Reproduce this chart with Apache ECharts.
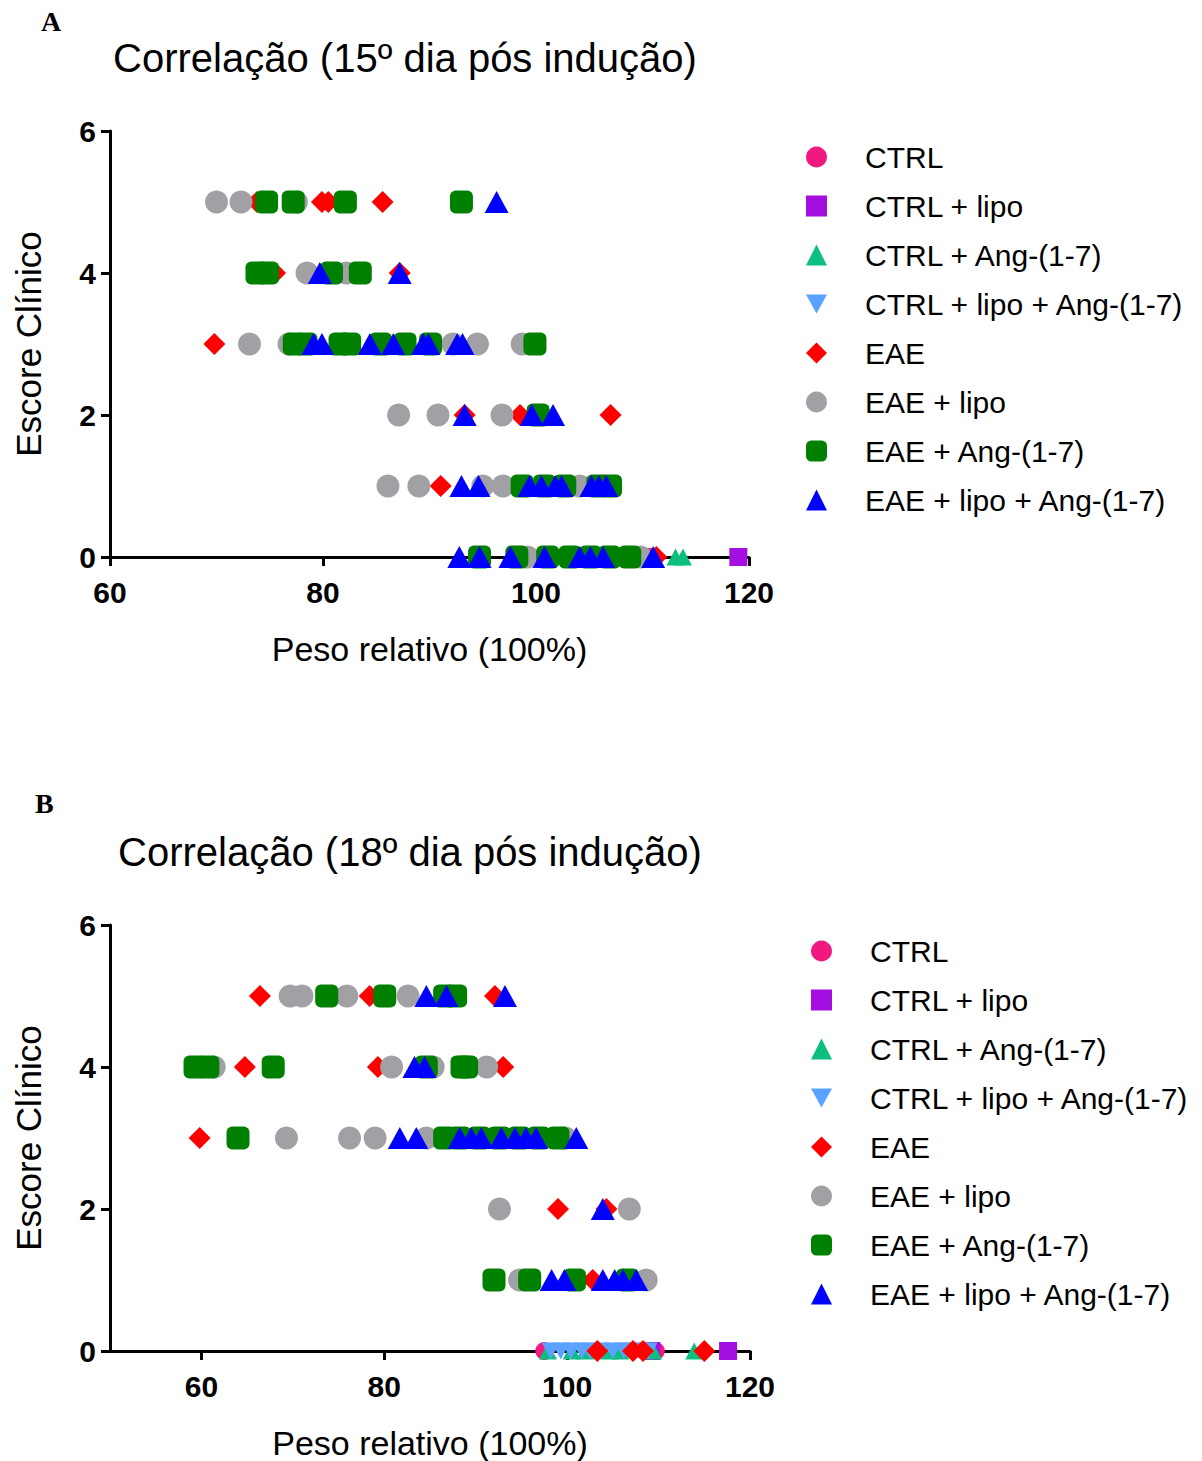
<!DOCTYPE html>
<html>
<head>
<meta charset="utf-8">
<script src="https://cdn.jsdelivr.net/npm/echarts@6/dist/echarts.min.js"></script>
<style>
  html, body { margin: 0; background: #fff; }
  #chart { width: 1202px; height: 1461px; }
</style>
</head>
<body>
<div id="chart"></div>
<script>
// groups, in legend order
const groupNames = ['CTRL', 'CTRL + lipo', 'CTRL + Ang-(1-7)', 'CTRL + lipo + Ang-(1-7)',
  'EAE', 'EAE + lipo', 'EAE + Ang-(1-7)', 'EAE + lipo + Ang-(1-7)'];
const xTicksA = [60, 80, 100, 120];
const xTicksB = [60, 80, 100, 120];
const yTicks = [0, 2, 4, 6];

// panel A - 15th day: [peso relativo, escore clinico]
const a_ctrl = [[110.7, 0]];
const a_ctrlLipo = [[119.0, 0]];
const a_ctrlAng = [[113.1, 0], [113.8, 0]];
const a_ctrlLipoAng = [[103.2, 0], [105.1, 0]];
const a_eae = [[73.8, 5], [79.9, 5], [80.5, 5], [85.6, 5], [75.5, 4], [81.9, 4], [87.2, 4], [69.8, 3],
  [93.3, 2], [98.5, 2], [107.0, 2], [91.05, 1], [103.0, 1], [105.3, 0], [111.3, 0]];
const a_eaeLipo = [[70.0, 5], [72.3, 5], [77.5, 5], [78.5, 4], [82.2, 4], [73.1, 3], [76.8, 3], [92.2, 3],
  [94.5, 3], [98.7, 3], [87.1, 2], [90.8, 2], [96.8, 2], [86.1, 1], [89.0, 1], [95.0, 1], [96.9, 1],
  [104.1, 1], [99.2, 0], [109.8, 0]];
const a_eaeAng = [[74.7, 5], [77.2, 5], [82.1, 5], [93.0, 5], [73.8, 4], [74.8, 4], [80.8, 4], [83.5, 4],
  [77.3, 3], [78.4, 3], [81.6, 3], [82.5, 3], [85.4, 3], [87.7, 3], [90.1, 3], [99.9, 3], [100.2, 2],
  [98.7, 1], [100.8, 1], [102.7, 1], [105.8, 1], [107.0, 1], [94.7, 0], [98.2, 0], [101.1, 0],
  [103.2, 0], [105.1, 0], [106.9, 0], [108.8, 0]];
const a_eaeLipoAng = [[96.3, 5], [79.7, 4], [87.2, 4], [79.1, 3], [79.9, 3], [84.4, 3], [86.6, 3], [89.4, 3],
  [89.9, 3], [92.6, 3], [93.1, 3], [93.3, 2], [99.6, 2], [101.6, 2], [93.0, 1], [94.6, 1], [99.4, 1],
  [100.5, 1], [101.8, 1], [102.4, 1], [105.2, 1], [105.9, 1], [106.6, 1], [92.8, 0], [94.7, 0],
  [97.6, 0], [100.8, 0], [104.1, 0], [105.1, 0], [106.3, 0], [111.0, 0]];

// panel B - 18th day
const b_ctrl = [[97.5, 0], [109.7, 0]];
const b_ctrlLipo = [[109.2, 0], [117.6, 0]];
const b_ctrlAng = [[97.9, 0], [100.5, 0], [102.0, 0], [104.6, 0], [105.8, 0], [109.4, 0], [113.9, 0]];
const b_ctrlLipoAng = [[98.2, 0], [99.3, 0], [100.4, 0], [101.6, 0], [102.5, 0], [103.8, 0], [105.0, 0],
  [106.2, 0], [107.0, 0], [108.1, 0], [108.9, 0]];
const b_eae = [[66.4, 5], [78.4, 5], [92.1, 5], [64.75, 4], [79.3, 4], [93.0, 4], [59.8, 3], [91.6, 3],
  [99.0, 2], [104.3, 2], [102.8, 1], [103.3, 0], [107.2, 0], [108.3, 0], [115.0, 0]];
const b_eaeLipo = [[69.7, 5], [71.0, 5], [75.9, 5], [82.6, 5], [61.4, 4], [80.8, 4], [85.35, 4], [91.2, 4],
  [69.3, 3], [76.2, 3], [79.0, 3], [84.6, 3], [99.8, 3], [92.6, 2], [106.8, 2], [94.8, 1], [108.65, 1]];
const b_eaeAng = [[73.7, 5], [80.05, 5], [86.6, 5], [87.8, 5], [59.3, 4], [60.7, 4], [67.85, 4], [84.6, 4],
  [88.5, 4], [89.0, 4], [64.0, 3], [86.6, 3], [88.25, 3], [90.4, 3], [92.6, 3], [94.75, 3], [96.9, 3],
  [99.0, 3], [92.0, 1], [95.9, 1], [100.8, 1], [106.6, 1]];
const b_eaeLipoAng = [[84.6, 5], [86.8, 5], [93.2, 5], [83.3, 4], [84.4, 4], [81.7, 3], [83.5, 3], [88.25, 3],
  [89.5, 3], [90.6, 3], [92.8, 3], [94.3, 3], [95.5, 3], [96.6, 3], [101.0, 3], [103.9, 2], [98.3, 1],
  [99.7, 1], [103.9, 1], [105.2, 1], [106.1, 1], [107.55, 1]];

const colors = ['#f0197f', '#a40fe0', '#0cbf7f', '#5aa2ff', '#ff0000', '#a1a0a5', '#008000', '#0000ff'];
const triDown = 'path://M0,0 L10,0 L5,9 Z';
const symbols = ['circle', 'rect', 'triangle', triDown, 'diamond', 'circle', 'roundRect', 'triangle'];
const sizes = [18, 18, [18, 17], [18, 17], 22, 23, 23, [24, 22]];

const FONT = '"Liberation Sans", Arial, sans-serif';

function makeSeries(lists, idx) {
  return groupNames.map((name, i) => ({
    name: name,
    type: 'scatter',
    xAxisIndex: idx,
    yAxisIndex: idx,
    data: lists[i],
    symbol: symbols[i],
    symbolSize: sizes[i],
    itemStyle: { color: colors[i], opacity: 1 },
    clip: false,
    emphasis: { disabled: true }
  }));
}

function xAxis(idx, min, interval, ticks) {
  return {
    gridIndex: idx, type: 'value', min: min, max: 120, interval: interval,
    name: 'Peso relativo (100%)', nameLocation: 'middle', nameGap: 75,
    nameTextStyle: { fontFamily: FONT, fontSize: 34, color: '#000' },
    axisLine: { onZero: false, lineStyle: { color: '#000', width: 3 } },
    axisTick: { customValues: ticks, length: 9, lineStyle: { color: '#000', width: 3 } },
    axisLabel: { customValues: ticks, margin: 20, fontFamily: FONT, fontSize: 30, fontWeight: 'bold', color: '#000' },
    splitLine: { show: false }
  };
}

function yAxis(idx) {
  return {
    gridIndex: idx, type: 'value', min: 0, max: 6, interval: 2,
    name: 'Escore Clínico', nameLocation: 'middle', nameGap: 64,
    nameTextStyle: { fontFamily: FONT, fontSize: 35, color: '#000' },
    axisLine: { show: true, onZero: false, lineStyle: { color: '#000', width: 3 } },
    axisTick: { show: true, customValues: yTicks, length: 9, lineStyle: { color: '#000', width: 3 } },
    axisLabel: { customValues: yTicks, margin: 14, fontFamily: FONT, fontSize: 30, fontWeight: 'bold', color: '#000' },
    splitLine: { show: false }
  };
}

function legend(left, top) {
  return {
    orient: 'vertical', left: left, top: top, padding: 0,
    itemWidth: 21, itemHeight: 21, itemGap: 19,
    data: groupNames, selectedMode: false,
    textStyle: { fontFamily: FONT, fontSize: 30, color: '#000', padding: [0, 0, 0, 33] }
  };
}

const chart = echarts.init(document.getElementById('chart'), null, { renderer: 'svg' });
chart.setOption({
  animation: false,
  backgroundColor: '#fff',
  title: [
    { text: 'A', left: 41, top: 7, padding: 0, textStyle: { fontFamily: '"Liberation Serif", serif', fontSize: 28, fontWeight: 'bold', color: '#000' } },
    { text: 'Correlação (15º dia pós indução)', left: 405, top: 38, padding: 0, textAlign: 'center',
      textStyle: { fontFamily: FONT, fontSize: 40, fontWeight: 'normal', color: '#000' } },
    { text: 'B', left: 35, top: 789, padding: 0, textStyle: { fontFamily: '"Liberation Serif", serif', fontSize: 28, fontWeight: 'bold', color: '#000' } },
    { text: 'Correlação (18º dia pós indução)', left: 410, top: 832, padding: 0, textAlign: 'center',
      textStyle: { fontFamily: FONT, fontSize: 40, fontWeight: 'normal', color: '#000' } }
  ],
  legend: [legend(806, 142), legend(811, 936)],
  grid: [
    { left: 110, top: 131, width: 639, height: 426, outerBoundsMode: 'none' },
    { left: 110, top: 925, width: 640, height: 426, outerBoundsMode: 'none' }
  ],
  xAxis: [xAxis(0, 60, 20, xTicksA), xAxis(1, 50, 10, xTicksB)],
  yAxis: [yAxis(0), yAxis(1)],
  series: makeSeries([a_ctrl, a_ctrlLipo, a_ctrlAng, a_ctrlLipoAng, a_eae, a_eaeLipo, a_eaeAng, a_eaeLipoAng], 0)
    .concat(makeSeries([b_ctrl, b_ctrlLipo, b_ctrlAng, b_ctrlLipoAng, b_eae, b_eaeLipo, b_eaeAng, b_eaeLipoAng], 1))
});
</script>
</body>
</html>
